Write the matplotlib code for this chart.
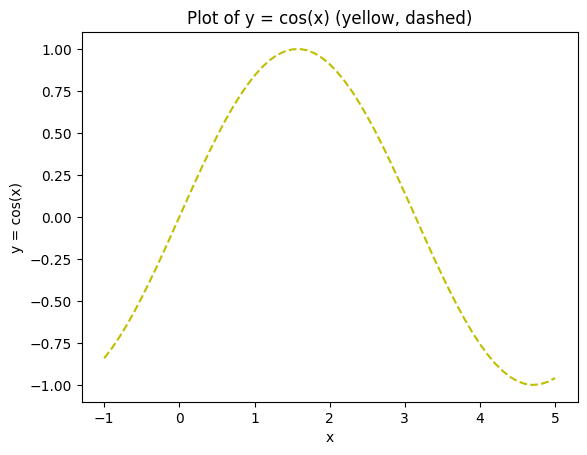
import numpy as np
import matplotlib
matplotlib.use("Agg")
import matplotlib.pyplot as plt

x_values = np.round(np.arange(-1.0, 5.0001, 0.1), 1)
y_values = [-0.841, -0.783, -0.717, -0.644, -0.565, -0.479, -0.389, -0.296, -0.199, -0.100,
            0.000, 0.100, 0.199, 0.296, 0.389, 0.479, 0.565, 0.644, 0.717, 0.783,
            0.841, 0.891, 0.932, 0.964, 0.985, 0.997, 1.000, 0.992, 0.974, 0.946,
            0.909, 0.863, 0.808, 0.746, 0.675, 0.598, 0.516, 0.427, 0.335, 0.239,
            0.141, 0.042, -0.058, -0.158, -0.256, -0.351, -0.443, -0.530, -0.612, -0.688,
            -0.757, -0.818, -0.872, -0.916, -0.952, -0.978, -0.994, -1.000, -0.996, -0.982,
            -0.959]

fig, ax = plt.subplots(figsize=(6.4, 4.8), dpi=100)
ax.plot(x_values, y_values, color='y', linestyle='--')
ax.set_title("Plot of y = cos(x) (yellow, dashed)")
ax.set_xlabel("x")
ax.set_ylabel("y = cos(x)")
fig.savefig("out.png", bbox_inches='tight')
